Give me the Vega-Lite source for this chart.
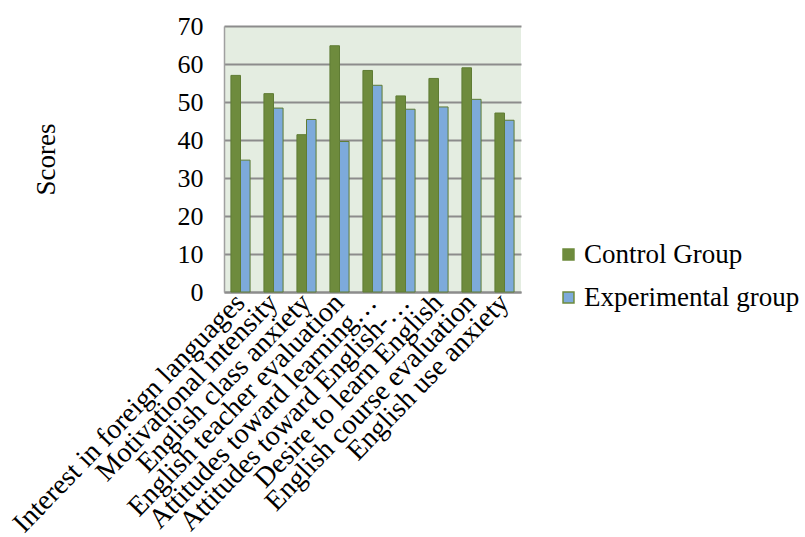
{
  "$schema": "https://vega.github.io/schema/vega-lite/v6.json",
  "width": 297,
  "height": 266,
  "autosize": {"type": "none"},
  "padding": {"left": 224, "top": 26, "right": 284, "bottom": 245},
  "background": "white",
  "config": {
    "font": "Liberation Serif",
    "view": {"fill": "#E4EDE1", "stroke": null}
  },
  "data": {
    "values": [
      {"factor": "Interest in foreign languages", "group": "Control Group", "score": 57},
      {"factor": "Interest in foreign languages", "group": "Experimental group", "score": 34.7},
      {"factor": "Motivational intensity", "group": "Control Group", "score": 52.2},
      {"factor": "Motivational intensity", "group": "Experimental group", "score": 48.4},
      {"factor": "English class anxiety", "group": "Control Group", "score": 41.4},
      {"factor": "English class anxiety", "group": "Experimental group", "score": 45.4},
      {"factor": "English teacher evaluation", "group": "Control Group", "score": 64.8},
      {"factor": "English teacher evaluation", "group": "Experimental group", "score": 39.6},
      {"factor": "Attitudes toward learning…", "group": "Control Group", "score": 58.3},
      {"factor": "Attitudes toward learning…", "group": "Experimental group", "score": 54.4},
      {"factor": "Attitudes toward English-…", "group": "Control Group", "score": 51.6},
      {"factor": "Attitudes toward English-…", "group": "Experimental group", "score": 48.1},
      {"factor": "Desire to learn English", "group": "Control Group", "score": 56.2},
      {"factor": "Desire to learn English", "group": "Experimental group", "score": 48.7},
      {"factor": "English course evaluation", "group": "Control Group", "score": 59},
      {"factor": "English course evaluation", "group": "Experimental group", "score": 50.7},
      {"factor": "English use anxiety", "group": "Control Group", "score": 47.1},
      {"factor": "English use anxiety", "group": "Experimental group", "score": 45.2}
    ]
  },
  "mark": {"type": "bar", "strokeWidth": 1, "stroke": "#5F7C34"},
  "encoding": {
    "x": {
      "field": "factor",
      "type": "nominal",
      "sort": null,
      "scale": {"paddingInner": 0.42, "paddingOuter": 0.21},
      "axis": {
        "title": null,
        "labelAngle": -46,
        "labelAlign": "right",
        "labelBaseline": "middle",
        "labelFontSize": 28,
        "labelColor": "black",
        "labelPadding": 6,
        "labelLimit": 500,
        "labelOverlap": false,
        "ticks": false,
        "domainColor": "#8C8C8C",
        "domainWidth": 2
      }
    },
    "xOffset": {"field": "group", "type": "nominal", "scale": {"paddingInner": 0}},
    "y": {
      "field": "score",
      "type": "quantitative",
      "scale": {"domain": [0, 70]},
      "axis": {
        "title": "Scores",
        "titleFont": "Liberation Serif",
        "titleFontSize": 27,
        "titleFontWeight": "normal",
        "titleColor": "black",
        "titlePadding": 117,
        "values": [0, 10, 20, 30, 40, 50, 60, 70],
        "labelFontSize": 26,
        "labelColor": "black",
        "labelPadding": 21,
        "ticks": false,
        "gridColor": "#8C8C8C",
        "gridWidth": 2,
        "domainColor": "#A0A0A0",
        "domainWidth": 1.5
      }
    },
    "color": {
      "field": "group",
      "type": "nominal",
      "scale": {
        "domain": ["Control Group", "Experimental group"],
        "range": ["#6E8B3D", "#7DAADB"]
      },
      "legend": {
        "title": null,
        "orient": "none",
        "legendX": 331,
        "legendY": 215,
        "symbolType": "square",
        "symbolSize": 120,
        "symbolStrokeColor": "#6E8B3D",
        "symbolStrokeWidth": 1.5,
        "labelFontSize": 27,
        "labelColor": "black",
        "labelOffset": 2,
        "labelLimit": 400,
        "rowPadding": 15
      }
    }
  }
}
